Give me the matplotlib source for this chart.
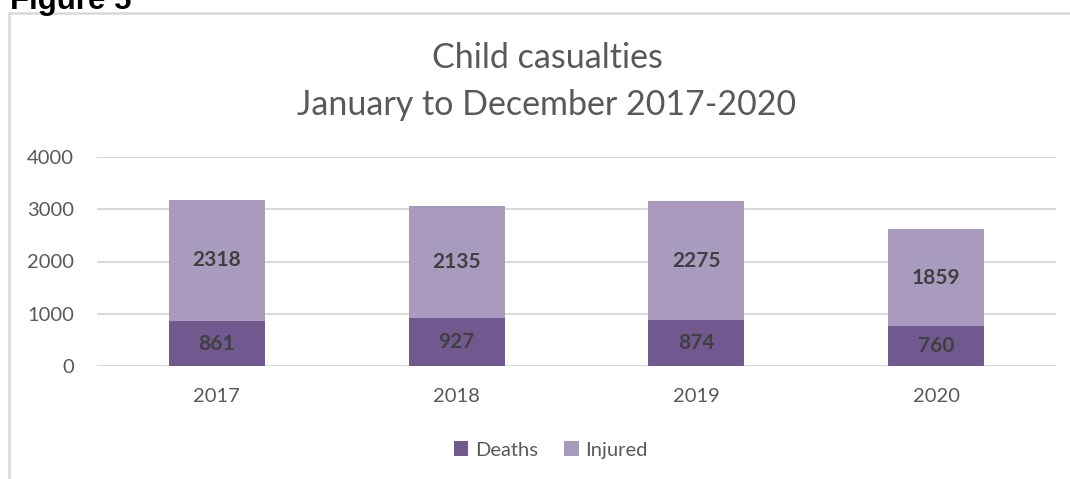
import matplotlib
matplotlib.use("Agg")
import matplotlib.pyplot as plt
from matplotlib.patches import Rectangle

years = ["2017", "2018", "2019", "2020"]
deaths = [861, 927, 874, 760]
injured = [2318, 2135, 2275, 1859]
yticks = [0, 1000, 2000, 3000, 4000]

c_deaths = "#71588F"
c_injured = "#A99BBE"
txt = "#595959"

plt.rcParams['font.family'] = ['Lato', 'DejaVu Sans']

fig = plt.figure(figsize=(10.70, 4.79), dpi=100)
W, H = 1070, 479

# outer border of the chart area (cut off at right/bottom)
fig.patches.append(Rectangle((9 / W, -0.1), 1.2, 1 - 13 / H + 0.1, transform=fig.transFigure,
                             fill=False, edgecolor="#D9D9D9", linewidth=1.8, zorder=0))
fig.text(10 / W, 1 - 9 / H, "Figure 5", fontsize=22.5, fontweight="bold",
         family=["Liberation Sans"], va="baseline", ha="left", color="black")

ax = fig.add_axes([97 / W, 1 - 366 / H, (1056 - 97) / W, (366 - 157) / H])
x = list(range(len(years)))
b1 = ax.bar(x, deaths, width=0.4, color=c_deaths, label="Deaths", zorder=3)
b2 = ax.bar(x, injured, width=0.4, bottom=deaths, color=c_injured, label="Injured", zorder=3)

for i in x:
    ax.text(i, deaths[i] / 2, str(deaths[i]), ha="center", va="center",
            fontsize=15, fontweight="bold", color="#404040", zorder=4)
    ax.text(i, deaths[i] + injured[i] / 2, str(injured[i]), ha="center", va="center",
            fontsize=15, fontweight="bold", color="#404040", zorder=4)

ax.set_xlim(-0.5, len(years) - 0.5)
ax.set_ylim(0, 4000)
ax.set_yticks(yticks)
ax.set_yticklabels([str(v) for v in yticks])
ax.set_xticks(x)
ax.set_xticklabels(years)
ax.tick_params(axis="both", length=0, labelsize=14.5, labelcolor=txt)
ax.tick_params(axis="y", pad=16.5)
ax.tick_params(axis="x", pad=16)
ax.grid(axis="y", color="#D9D9D9", linewidth=1.5, zorder=0)
for s in ax.spines.values():
    s.set_visible(False)

fig.text(547 / W, 1 - 58 / H, "Child casualties", ha="center", va="center",
         fontsize=24.5, color=txt)
fig.text(547 / W, 1 - 105 / H, "January to December 2017-2020", ha="center", va="center",
         fontsize=24.5, color=txt)

fig.legend(handles=[b1, b2], labels=["Deaths", "Injured"], loc="center",
           bbox_to_anchor=(551 / W, 1 - 450 / H), ncol=2, frameon=False,
           fontsize=14.5, labelcolor=txt, handlelength=0.7, handleheight=0.7,
           handletextpad=0.35, columnspacing=1.3)

fig.savefig("out.png", dpi=100)
